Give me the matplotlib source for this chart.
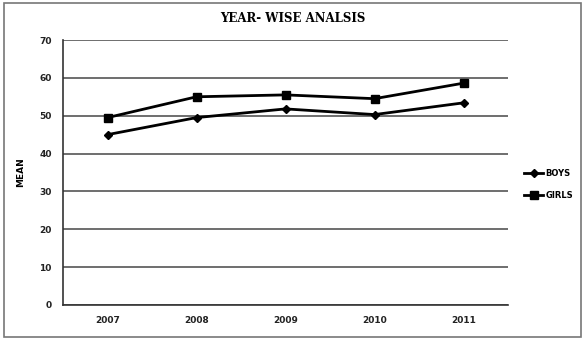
import matplotlib.pyplot as plt
from matplotlib.patches import Rectangle

years = ["2007", "2008", "2009", "2010", "2011"]
boys = [45.0, 49.5, 51.8, 50.3, 53.4]
girls = [49.5, 55.0, 55.5, 54.5, 58.6]
y_ticks = [0, 10, 20, 30, 40, 50, 60, 70]

fig = plt.figure(figsize=(5.85, 3.4), dpi=100)
ax = fig.add_axes([63 / 585, 35 / 340, 445 / 585, 265 / 340])

x = list(range(len(years)))
ax.plot(x, boys, color="black", lw=2, marker="D", ms=4, label="BOYS")
ax.plot(x, girls, color="black", lw=2, marker="s", ms=6, label="GIRLS")

ax.set_xlim(-0.5, len(years) - 0.5)
ax.set_ylim(0, 70)
ax.set_yticks(y_ticks)
ax.set_xticks(x)
ax.set_xticklabels(years)
ax.yaxis.grid(True, color="#555555", lw=1.2)
ax.set_axisbelow(True)
ax.tick_params(length=0, labelsize=6.5, pad=8, colors="#222222")
for lbl in ax.get_xticklabels() + ax.get_yticklabels():
    lbl.set_fontweight("bold")

for side in ["top", "right"]:
    ax.spines[side].set_visible(False)
ax.spines["left"].set_color("#333333")
ax.spines["bottom"].set_color("#333333")
ax.spines["left"].set_linewidth(1.2)
ax.spines["bottom"].set_linewidth(1.2)

ax.set_ylabel("MEAN", fontsize=6.5, fontweight="bold", labelpad=10)
fig.text(0.5, 1 - 18 / 340, "YEAR- WISE ANALSIS", ha="center", va="center",
         family="DejaVu Serif", fontsize=8.5, fontweight="bold")

leg = ax.legend(loc="center left", bbox_to_anchor=(1.02, 0.455), frameon=False,
                fontsize=6, handlelength=2.2, labelspacing=1.6, handletextpad=0.3)
for t in leg.get_texts():
    t.set_fontweight("bold")

# outer frame around the whole chart
fig.patches.append(Rectangle((4 / 585, 3 / 340), 577 / 585, 334 / 340,
                             transform=fig.transFigure, fill=False,
                             edgecolor="#777777", lw=1.2))

fig.savefig("out.png", dpi=100)
